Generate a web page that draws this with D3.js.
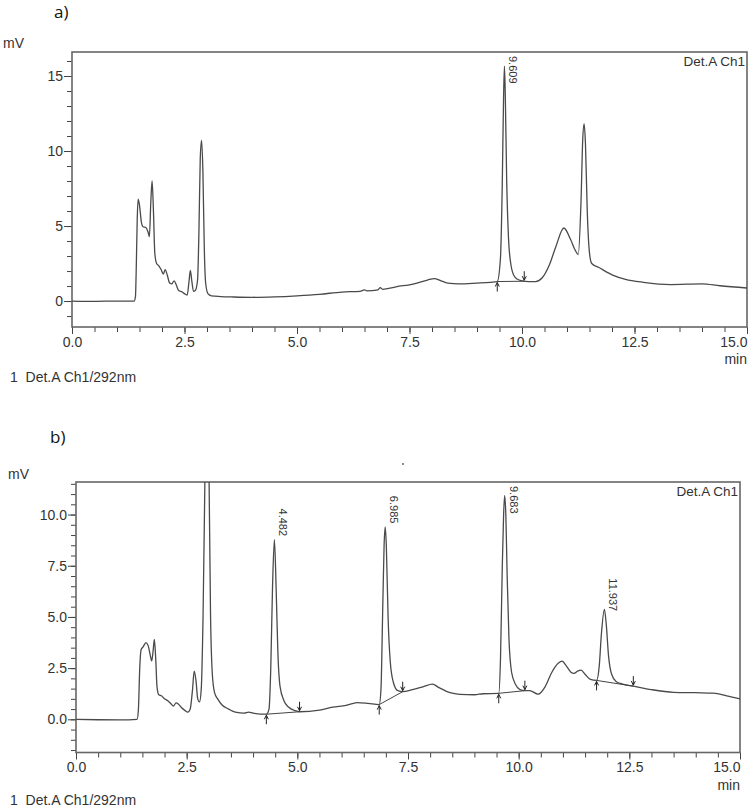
<!DOCTYPE html>
<html lang="en">
<head>
<meta charset="UTF-8" />
<title>Chromatograms a) and b)</title>
<script src="https://cdn.jsdelivr.net/npm/d3@7"></script>
<style>
  body { margin: 0; background: #fff; }
  svg { display: block; font-family: "Liberation Sans", Arial, sans-serif; }
  .tick text { font-size: 14px; fill: #333; }
  .tick line { stroke: #444; }
  .domain { display: none; }
  .panel-tag { font-family: "Open Sans", "Noto Sans", sans-serif; font-size: 17px; fill: #111; }
  .lbl { font-size: 14px; fill: #333; }
  .det { font-size: 13.5px; fill: #333; }
  .rt { font-size: 11px; fill: #333; }
</style>
</head>
<body>
<svg id="chart" width="750" height="807"></svg>
<script>
// panel a) - time (min) and signal (mV)
const topTime = [0, 0.5, 1.0, 1.38, 1.41, 1.43, 1.45, 1.47, 1.50, 1.54, 1.58, 1.64, 1.69, 1.72, 1.75, 1.78, 1.81, 1.84, 1.88, 1.93,
  1.98, 2.03, 2.07, 2.12, 2.17, 2.22, 2.27, 2.32, 2.37, 2.45, 2.52, 2.56, 2.60, 2.63, 2.66, 2.70, 2.74, 2.79, 2.82, 2.85,
  2.88, 2.91, 2.94, 2.97, 3.02, 3.1, 3.3, 3.6, 4.0, 4.5, 5.0, 5.5, 6.0, 6.4, 6.5, 6.55, 6.8, 6.85, 6.9, 7.2,
  7.6, 7.9, 8.05, 8.2, 8.35, 8.6, 9.0, 9.3, 9.45, 9.52, 9.56, 9.59, 9.61, 9.63, 9.66, 9.70, 9.75, 9.82, 9.9, 10.0,
  10.15, 10.3, 10.45, 10.6, 10.75, 10.93, 11.08, 11.18, 11.25, 11.31, 11.35, 11.38, 11.41, 11.45, 11.50, 11.55, 11.7, 12.0, 12.3, 12.7,
  13.3, 14.0, 14.4, 15.0];
const topSignal = [0, -0.02, 0, 0, 0.3, 2.5, 5.5, 6.8, 6.4, 5.3, 4.95, 4.9, 4.6, 4.3, 6.5, 8.0, 6.0, 3.2, 2.5, 2.35,
  2.1, 1.8, 2.1, 1.7, 1.2, 1.15, 1.35, 1.05, 0.7, 0.6, 0.45, 0.4, 1.3, 2.05, 1.4, 0.65, 0.7, 1.4, 4.5, 9.5,
  10.7, 8.5, 3.5, 1.2, 0.5, 0.35, 0.3, 0.27, 0.25, 0.28, 0.35, 0.45, 0.6, 0.65, 0.75, 0.68, 0.75, 0.9, 0.78, 0.95,
  1.15, 1.4, 1.5, 1.35, 1.2, 1.15, 1.2, 1.25, 1.3, 2.8, 7.5, 13.5, 15.65, 13.5, 8.0, 4.2, 2.5, 1.7, 1.45, 1.35,
  1.3, 1.3, 1.55, 2.35, 3.6, 4.87, 4.1, 3.4, 3.1, 6.5, 10.8, 11.8, 10.5, 6.0, 3.2, 2.5, 2.25, 1.75, 1.45, 1.25,
  1.1, 1.15, 1.02, 0.87];
const topYTicks = [0, 5, 10, 15];
const topPeakRT = [9.609];
const topPeakTop = [15.65];
const topPeakStart = [9.45], topPeakStartMv = [1.3];
const topPeakEnd = [10.05], topPeakEndMv = [1.32];

// panel b)
const botTime = [0, 0.5, 1.0, 1.38, 1.41, 1.44, 1.47, 1.52, 1.58, 1.63, 1.68, 1.71, 1.74, 1.77, 1.80, 1.83, 1.87, 1.93, 2.0, 2.08,
  2.15, 2.2, 2.26, 2.31, 2.37, 2.45, 2.53, 2.58, 2.63, 2.67, 2.71, 2.75, 2.79, 2.83, 2.87, 2.92, 2.96, 3.0, 3.04, 3.08,
  3.13, 3.2, 3.3, 3.45, 3.6, 3.8, 3.9, 4.0, 4.3, 4.36, 4.40, 4.44, 4.482, 4.52, 4.56, 4.61, 4.7, 4.8, 4.95, 5.05,
  5.5, 5.8, 6.1, 6.35, 6.6, 6.85, 6.89, 6.93, 6.96, 6.985, 7.01, 7.05, 7.1, 7.17, 7.27, 7.38, 7.6, 7.85, 8.05, 8.2,
  8.45, 8.67, 9.0, 9.2, 9.55, 9.59, 9.63, 9.66, 9.683, 9.71, 9.74, 9.78, 9.84, 9.93, 10.03, 10.14, 10.25, 10.44, 10.6, 10.75,
  10.9, 10.98, 11.08, 11.18, 11.25, 11.33, 11.41, 11.5, 11.62, 11.76, 11.82, 11.87, 11.937, 11.98, 12.03, 12.1, 12.2, 12.35, 12.59, 13.0,
  13.5, 14.0, 14.4, 14.7, 15.0];
const botSignal = [0, -0.02, -0.03, 0, 0.5, 2.5, 3.4, 3.55, 3.75, 3.6, 3.1, 2.85, 3.3, 3.9, 3.0, 1.6, 1.2, 1.15, 1.0, 0.9,
  0.75, 0.65, 0.8, 0.75, 0.6, 0.45, 0.35, 0.5, 1.4, 2.35, 1.9, 1.0, 0.85, 1.5, 5, 13, 18, 13, 5, 2.2,
  1.3, 1.0, 0.7, 0.5, 0.35, 0.3, 0.35, 0.3, 0.25, 0.5, 2.5, 6.5, 8.78, 6.5, 3.3, 1.6, 0.9, 0.6, 0.42, 0.37,
  0.45, 0.6, 0.68, 0.82, 0.78, 0.72, 1.5, 5.5, 8.5, 9.4, 8.5, 5.0, 2.8, 1.8, 1.4, 1.35, 1.45, 1.6, 1.72, 1.55,
  1.3, 1.22, 1.2, 1.25, 1.27, 3, 7.5, 10, 10.94, 10, 7, 4, 2.3, 1.7, 1.45, 1.4, 1.4, 1.23, 1.6, 2.3,
  2.75, 2.84, 2.6, 2.3, 2.24, 2.35, 2.4, 2.2, 1.95, 1.9, 2.6, 4.2, 5.37, 4.6, 3.1, 2.2, 1.85, 1.72, 1.62, 1.45,
  1.32, 1.3, 1.28, 1.15, 1.0];
const botYTicks = [0, 2.5, 5, 7.5, 10];
const botPeakRT = [4.482, 6.985, 9.683, 11.937];
const botPeakTop = [8.78, 9.4, 10.94, 5.37];
const botPeakStart = [4.3, 6.85, 9.55, 11.76], botPeakStartMv = [0.25, 0.72, 1.27, 1.9];
const botPeakEnd = [5.05, 7.38, 10.14, 12.59], botPeakEndMv = [0.37, 1.35, 1.4, 1.62];

const xTicks = [0, 2.5, 5, 7.5, 10, 12.5, 15];

const svg = d3.select("#chart");

function drawPanel(p) {
  const g = svg.append("g");
  const x = d3.scaleLinear().domain([0, 15]).range([p.left, p.right]);
  const y = d3.scaleLinear().domain(p.yDomain).range([p.bottom, p.top]);

  const clipId = "clip" + p.tag;
  svg.append("clipPath").attr("id", clipId).append("rect")
    .attr("x", p.left).attr("y", p.top).attr("width", p.right - p.left).attr("height", p.bottom - p.top);

  // minor ticks
  g.append("g").attr("transform", `translate(${p.left},0)`)
    .call(d3.axisLeft(y).tickValues(p.yMinor).tickSize(5).tickFormat(""));
  g.append("g").attr("transform", `translate(${p.left},0)`)
    .call(d3.axisLeft(y).tickValues(p.yTicks).tickSize(8).tickPadding(1).tickFormat(p.yFormat));
  g.append("g").attr("transform", `translate(0,${p.bottom})`)
    .call(d3.axisBottom(x).tickValues(d3.range(0, 15.01, 0.5)).tickSize(5).tickFormat(""));
  const xa = g.append("g").attr("transform", `translate(0,${p.bottom})`)
    .call(d3.axisBottom(x).tickValues(xTicks).tickSize(7).tickPadding(3).tickFormat(d3.format(".1f")));
  // last label sits flush with the right edge
  xa.selectAll(".tick text").filter(d => d === 15).attr("text-anchor", "end");

  // frame
  g.append("rect")
    .attr("x", p.left).attr("y", p.top)
    .attr("width", p.right - p.left).attr("height", p.bottom - p.top)
    .attr("fill", "none").attr("stroke", "#666").attr("stroke-width", 1.6);

  const pts = p.time.map((t, i) => [t, p.signal[i]]);
  const line = d3.line().x(d => x(d[0])).y(d => y(d[1])).curve(d3.curveMonotoneX);
  g.append("path").datum(pts)
    .attr("clip-path", `url(#${clipId})`)
    .attr("d", line)
    .attr("fill", "none").attr("stroke", "#4a4a4a").attr("stroke-width", 1.3);

  // integration baselines + markers
  p.peakRT.forEach((rt, i) => {
    const x1 = x(p.start[i]), y1 = y(p.startMv[i]);
    const x2 = x(p.end[i]), y2 = y(p.endMv[i]);
    g.append("line").attr("x1", x1).attr("y1", y1).attr("x2", x2).attr("y2", y2)
      .attr("stroke", "#444").attr("stroke-width", 1);
    // start: arrow up from below
    g.append("line").attr("x1", x1).attr("x2", x1).attr("y1", y1 + 1).attr("y2", y1 + 10)
      .attr("stroke", "#222").attr("stroke-width", 1);
    g.append("path").attr("d", `M${x1 - 2},${y1 + 5}L${x1},${y1 + 1}L${x1 + 2},${y1 + 5}`)
      .attr("fill", "none").attr("stroke", "#222").attr("stroke-width", 1);
    // end: arrow down from above
    g.append("line").attr("x1", x2).attr("x2", x2).attr("y1", y2 - 10).attr("y2", y2 - 1)
      .attr("stroke", "#222").attr("stroke-width", 1);
    g.append("path").attr("d", `M${x2 - 2},${y2 - 5}L${x2},${y2 - 1}L${x2 + 2},${y2 - 5}`)
      .attr("fill", "none").attr("stroke", "#222").attr("stroke-width", 1);

    const ys = Math.max(p.top + 4, y(p.peakTop[i]) - 31);
    g.append("text").attr("class", "rt")
      .attr("transform", `translate(${x(rt) + 5},${ys}) rotate(90)`)
      .text(rt.toFixed(3));
  });

  g.append("text").attr("class", "det").attr("x", p.right - 2).attr("y", p.top + 14)
    .attr("text-anchor", "end").text("Det.A Ch1");
  g.append("text").attr("class", "lbl").attr("x", p.mvX).attr("y", p.mvY).text("mV");
  g.append("text").attr("class", "lbl").attr("x", p.right).attr("y", p.bottom + 37)
    .attr("text-anchor", "end").text("min");
  g.append("text").attr("class", "lbl").attr("x", 10).attr("y", p.bottom + p.footDy)
    .attr("xml:space", "preserve").text("1  Det.A Ch1/292nm");
  g.append("text").attr("class", "panel-tag").attr("x", p.tagX).attr("y", p.tagY).text(p.tag + ")");
}

drawPanel({
  tag: "a", left: 72, right: 747, top: 52, bottom: 327, yDomain: [-1.73, 16.6],
  yTicks: topYTicks, yMinor: d3.range(-1, 17, 1), yFormat: d3.format("d"),
  time: topTime, signal: topSignal,
  peakRT: topPeakRT, peakTop: topPeakTop, start: topPeakStart, startMv: topPeakStartMv,
  end: topPeakEnd, endMv: topPeakEndMv,
  mvX: 3, mvY: 48, footDy: 55, tagX: 54, tagY: 18
});

drawPanel({
  tag: "b", left: 76, right: 740, top: 482, bottom: 752.5, yDomain: [-1.62, 11.59],
  yTicks: botYTicks, yMinor: d3.range(-1.5, 11.6, 0.5), yFormat: d3.format(".1f"),
  time: botTime, signal: botSignal,
  peakRT: botPeakRT, peakTop: botPeakTop, start: botPeakStart, startMv: botPeakStartMv,
  end: botPeakEnd, endMv: botPeakEndMv,
  mvX: 8, mvY: 479, footDy: 52, tagX: 50, tagY: 443
});

// stray speck above panel b
svg.append("circle").attr("cx", 403).attr("cy", 464).attr("r", 0.9).attr("fill", "#555");
</script>
</body>
</html>
